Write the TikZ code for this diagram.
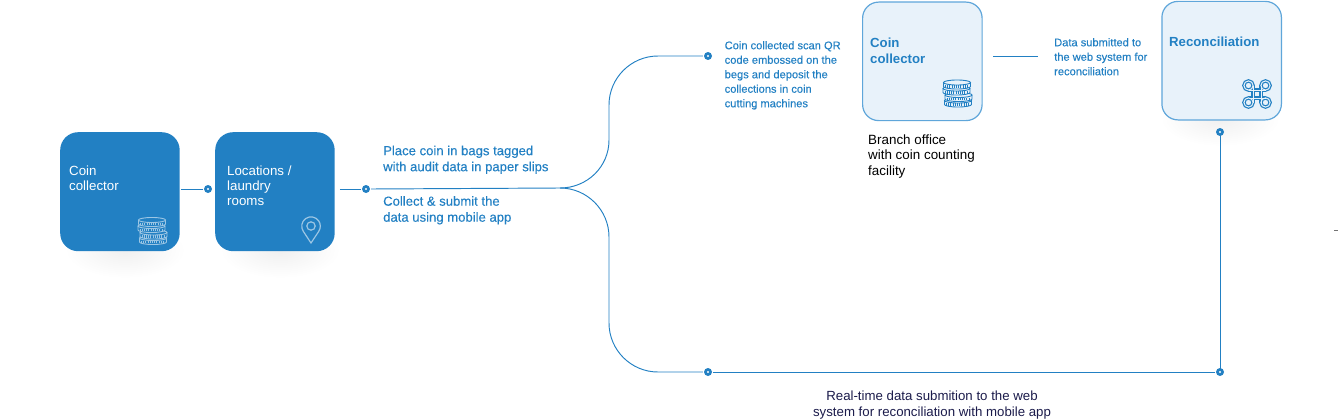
\documentclass[tikz,border=0pt]{standalone}
\usepackage{fontspec}
\setmainfont{Liberation Sans}
\newfontfamily\medfont[FakeBold=0.25]{Liberation Sans}
\usetikzlibrary{calc,shapes.geometric}
\definecolor{mainblue}{HTML}{2280C3}
\definecolor{paleblue}{HTML}{E8F2FA}
\definecolor{edgeblue}{HTML}{5FA6DA}
\definecolor{navy}{HTML}{1B1B4B}
\tikzset{
  x=1pt,y=-1pt,
  darkbox/.style={draw=none,fill=mainblue,rounded corners=18pt,minimum width=119.5pt,minimum height=119pt,inner sep=0,anchor=north west},
  palebox/.style={draw=edgeblue,line width=1.2pt,fill=paleblue,rounded corners=16pt,minimum width=119.5pt,minimum height=118.5pt,inner sep=0,anchor=north west},
  conn/.style={draw=mainblue,line width=.95pt},
  dotnode/.style={circle,fill=mainblue,minimum size=8pt,inner sep=0},
  txtbase/.style={inner sep=0,anchor=north west,align=left},
  whitetxt/.style={txtbase,text=white,font=\fontsize{13.3}{15}\selectfont},
  bluetxt/.style={txtbase,text=mainblue,font=\medfont\fontsize{13.1}{16}\selectfont},
  smalltxt/.style={txtbase,text=mainblue,font=\medfont\fontsize{11.1}{14.5}\selectfont},
  headtxt/.style={txtbase,text=mainblue,font=\bfseries\fontsize{13.2}{16}\selectfont},
  blacktxt/.style={txtbase,text=black,font=\fontsize{13.4}{15.5}\selectfont},
  shadowblob/.style={ellipse,minimum width=120pt,minimum height=56pt,inner sep=0,inner color=black!6,outer color=white},
}
% one stack of four coins: centre x, top y, line colour, fill colour
\newcommand{\coins}[4]{%
  \begin{scope}[shift={(#1,#2)},line width=.9pt]
  \foreach \yy/\xs in {18/1,12.5/1.5,6/-.5,0/0}{
    \filldraw[draw=#3,fill=#4] (\xs-13.5,\yy+2.5) -- ++(0,4) arc[start angle=180,end angle=360,x radius=13.5pt,y radius=2.5pt] -- ++(0,-4);
    \draw[#3,line width=2.2pt,dash pattern=on .8pt off 1.4pt] (\xs-12,\yy+6.5) -- (\xs+12,\yy+6.5);
    \filldraw[draw=#3,fill=#4] (\xs,\yy+2.5) ellipse[x radius=13.5pt,y radius=2.5pt];
  }
  \end{scope}}
\newcommand{\dotcentre}[1]{\fill[white] (#1) circle[radius=1.1pt];}
\begin{document}
\begin{tikzpicture}
\useasboundingbox (0,0) rectangle (1338,420);
% soft shadows
\node[shadowblob] at (125,250) {};
\node[shadowblob] at (280,250) {};
\node[shadowblob] at (1220,118) {};
% boxes
\node[darkbox] (collector) at (60,132) {};
\node[darkbox] (location) at (215,132) {};
\node[palebox] (branch) at (862,1.5) {};
\node[palebox] (recon) at (1161.3,.8) {};
% junction dots and free ends
\node[dotnode] (d1) at (208,189) {};
\node[dotnode] (d2) at (366,189) {};
\node[dotnode] (d3) at (708,56) {};
\node[dotnode] (d4) at (708,372) {};
\node[dotnode] (d5) at (1220,372) {};
\node[dotnode] (d6) at (1220,132) {};
\coordinate (fork) at (560,188);
\coordinate (ls) at (993,56.5);
\coordinate (le) at (1038,56.5);
% connectors
\draw[conn] (collector.east |- d1) ++(1.5,0) -- ([xshift=-1pt]d1.west);
\draw[conn] (location.east |- d2) ++(5,0) -- ([xshift=-1pt]d2.west);
\draw[conn] ([xshift=1pt]d2.east) -- (fork);
\draw[conn] (fork) .. controls +(27,0) and (609,167) .. (609,140) -- (609,105) .. controls (609,78) and (631,56) .. (658,56) -- ([xshift=-1pt]d3.west);
\draw[conn] (fork) .. controls +(27,0) and (609,210) .. (609,237) -- (609,323) .. controls (609,350) and (631,372) .. (658,372) -- ([xshift=-1pt]d4.west);
\draw[conn] ([xshift=1pt]d4.east) -- ([xshift=-1pt]d5.west);
\draw[conn] ([yshift=-1pt]d5.north) -- ([yshift=1pt]d6.south);
\draw[conn] (ls) -- (le);
\foreach \n in {d1,d2,d3,d4,d5,d6}{\dotcentre{\n}}
% stray edge mark
\coordinate (ma) at (1334,230.5);
\coordinate (mb) at (1338,230.5);
\draw[black!55,line width=.9pt] (ma) -- (mb);
% icons
\coins{152}{217.5}{white!55!mainblue}{mainblue}
\coins{957}{80}{mainblue}{paleblue}
% pin
\begin{scope}[shift={(311,226)},line width=1.2pt]
  \draw[white!55!mainblue] (0,17) -- (-7.6,5.5) arc[start angle=215,end angle=-35,radius=9.3pt] -- cycle;
  \draw[white!55!mainblue] (0,0) circle[radius=4.2pt];
\end{scope}
% command symbol
\begin{scope}[shift={(1257,94)}]
  \foreach \lw/\cc in {3.4/mainblue,1/paleblue}{
    \foreach \cx/\cy in {-8.5/-8.5,8.5/-8.5,-8.5/8.5,8.5/8.5}{\draw[\cc,line width=\lw pt] (\cx,\cy) circle[radius=4.6pt];}
    \draw[\cc,line width=\lw pt] (-4,-8.5) -- (-4,8.5) (4,-8.5) -- (4,8.5) (-8.5,-4) -- (8.5,-4) (-8.5,4) -- (8.5,4);
  }
\end{scope}
% texts
\node[whitetxt] (t1) at (69,166) {Coin\\collector};
\node[whitetxt] (t2) at (227,166) {Locations /\\laundry\\rooms};
\node[bluetxt] (t3) at (383,145.5) {Place coin in bags tagged\\with audit data in paper slips};
\node[bluetxt] (t4) at (383,196) {Collect \& submit the\\data using mobile app};
\node[smalltxt] (t5) at (724.5,41) {Coin collected scan QR\\code embossed on the\\begs and deposit the\\collections in coin\\cutting machines};
\node[headtxt] (t6) at (870,37.5) {Coin\\collector};
\node[smalltxt] (t7) at (1054,38) {Data submitted to\\the web system for\\reconciliation};
\node[headtxt] (t8) at (1169,36.5) {Reconciliation};
\node[blacktxt] (t9) at (868,134.5) {Branch office\\with coin counting\\facility};
\node[txtbase,text=navy,align=center,anchor=north,font=\fontsize{13.25}{16}\selectfont] (t10) at (932,390.5) {Real-time data submition to the web\\system for reconciliation with mobile app};
\end{tikzpicture}
\end{document}
